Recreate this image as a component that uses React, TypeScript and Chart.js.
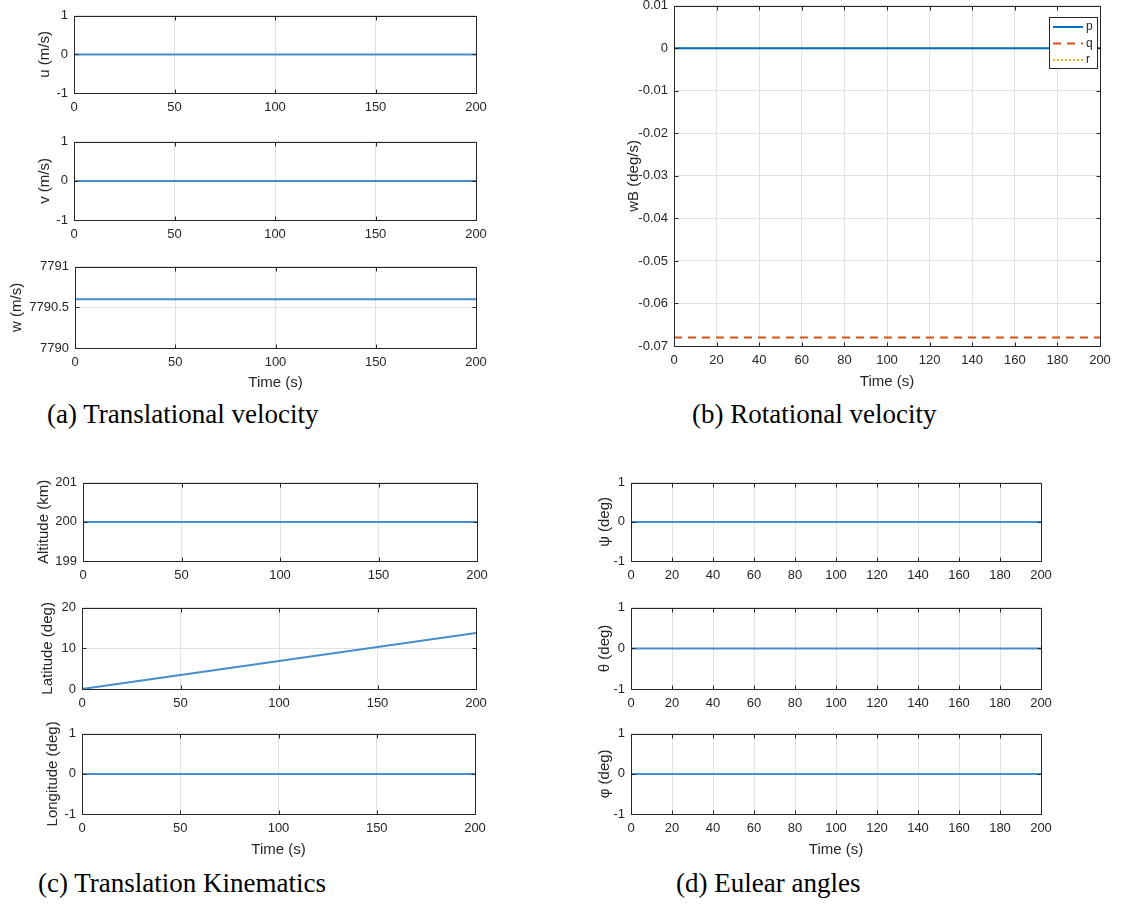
import React, { useEffect, useRef } from "react";
import { Chart, registerables } from "chart.js";
Chart.register(...registerables);

// ---- data ----
const time = [0, 50, 100, 150, 200];
const uVel = [0, 0, 0, 0, 0];
const vVel = [0, 0, 0, 0, 0];
const wVel = [7790.6, 7790.6, 7790.6, 7790.6, 7790.6];
const pRate = [0, 0, 0, 0, 0];
const qRate = [-0.068, -0.068, -0.068, -0.068, -0.068];
const rRate = [0, 0, 0, 0, 0];
const altitude = [200, 200, 200, 200, 200];
const latitude = [0, 3.45, 6.9, 10.35, 13.8];
const longitude = [0, 0, 0, 0, 0];
const psiAng = [0, 0, 0, 0, 0];
const thetaAng = [0, 0, 0, 0, 0];
const phiAng = [0, 0, 0, 0, 0];

// ---- tick labels ----
const ticks50 = [0, 50, 100, 150, 200];
const ticks20 = [0, 20, 40, 60, 80, 100, 120, 140, 160, 180, 200];
const ticksUnit = [-1, 0, 1];
const wTicks = [7790, 7790.5, 7791];
const wBTicks = [-0.07, -0.06, -0.05, -0.04, -0.03, -0.02, -0.01, 0, 0.01];
const altTicks = [199, 200, 201];
const latTicks = [0, 10, 20];

const FONT = "'Liberation Sans', Arial, Helvetica, sans-serif";
const SERIF = "'Liberation Serif', 'Times New Roman', serif";
const AXIS = "#262626";
const GRID = "#e2e2e2";
const LINE = "rgb(70,142,204)";
const TITLE_SIZE = 15;

const series = (ys: number[]) => time.map((t, i) => ({ x: t, y: ys[i] }));
const simple = (ys: number[]) => [
  { data: series(ys), borderColor: LINE, borderWidth: 2, pointRadius: 0, fill: false },
];

const framePlugin = {
  id: "frame",
  afterDatasetsDraw(chart: any) {
    const { ctx, chartArea: a, scales } = chart;
    ctx.save();
    ctx.strokeStyle = AXIS;
    ctx.lineWidth = 1;
    const L = Math.round(a.left) + 0.5, R = Math.round(a.right) + 0.5;
    const T = Math.round(a.top) + 0.5, B = Math.round(a.bottom) + 0.5;
    ctx.beginPath();
    ctx.rect(L, T, R - L, B - T);
    const tl = 4;
    scales.x.ticks.forEach((t: any) => {
      const px = Math.round(scales.x.getPixelForValue(t.value)) + 0.5;
      ctx.moveTo(px, B); ctx.lineTo(px, B - tl);
      ctx.moveTo(px, T); ctx.lineTo(px, T + tl);
    });
    scales.y.ticks.forEach((t: any) => {
      const py = Math.round(scales.y.getPixelForValue(t.value)) + 0.5;
      ctx.moveTo(L, py); ctx.lineTo(L + tl, py);
      ctx.moveTo(R, py); ctx.lineTo(R - tl, py);
    });
    ctx.stroke();
    ctx.restore();
  },
};

const legendPlugin = {
  id: "boxLegend",
  afterDraw(chart: any) {
    const { ctx } = chart;
    const x0 = 1049 - chart.canvas.offsetLeft, y0 = 17 - chart.canvas.offsetTop;
    const w = 48, h = 51;
    ctx.save();
    ctx.fillStyle = "#fff";
    ctx.fillRect(x0, y0, w, h);
    ctx.strokeStyle = AXIS;
    ctx.lineWidth = 1;
    ctx.strokeRect(x0 + 0.5, y0 + 0.5, w, h);
    ctx.font = `12px ${FONT}`;
    ctx.textBaseline = "middle";
    chart.data.datasets.forEach((ds: any, i: number) => {
      const y = y0 + 10 + i * 16.5;
      ctx.beginPath();
      ctx.strokeStyle = ds.borderColor;
      ctx.lineWidth = ds.borderWidth;
      ctx.setLineDash(ds.borderDash || []);
      ctx.moveTo(x0 + 4, y);
      ctx.lineTo(x0 + 34, y);
      ctx.stroke();
      ctx.setLineDash([]);
      ctx.fillStyle = AXIS;
      ctx.fillText(ds.label, x0 + 37, y);
    });
    ctx.restore();
  },
};

type SubProps = {
  l: number; t: number; r: number; b: number;
  yTitle: string; yTitleX: number;
  xTitle?: string; xTitleY?: number;
  xTicks: number[]; yTicks: number[];
  datasets: any[];
  legend?: boolean;
};

function Subplot(p: SubProps) {
  const ref = useRef<HTMLCanvasElement>(null);
  const LH = TITLE_SIZE * 1.2;
  const padTop = 12, padRight = 20;
  const cl = Math.round(p.yTitleX - LH / 2);
  const ct = p.t - padTop;
  const cr = p.r + padRight;
  const cb = p.xTitle ? Math.round((p.xTitleY as number) + LH / 2) : p.b + 26;
  const W = cr - cl, H = cb - ct;
  const Lw = p.l - cl, Bh = cb - p.b;

  useEffect(() => {
    const tickFont = { family: FONT, size: 13 };
    const titleFont = { family: FONT, size: TITLE_SIZE };
    const chart = new Chart(ref.current as HTMLCanvasElement, {
      type: "line",
      data: { datasets: p.datasets },
      options: {
        animation: false,
        responsive: false,
        maintainAspectRatio: false,
        devicePixelRatio: 1,
        layout: { padding: { top: padTop, right: padRight, left: 0, bottom: 0 } },
        plugins: { legend: { display: false }, tooltip: { enabled: false } },
        elements: { point: { radius: 0 }, line: { tension: 0 } },
        scales: {
          x: {
            type: "linear",
            min: p.xTicks[0],
            max: p.xTicks[p.xTicks.length - 1],
            afterBuildTicks: (s: any) => { s.ticks = p.xTicks.map((v) => ({ value: v })); },
            afterFit: (s: any) => { s.height = Bh; },
            grid: { color: GRID, drawTicks: false, lineWidth: 1 },
            border: { display: false },
            ticks: { padding: 7, font: tickFont, color: AXIS, maxRotation: 0, autoSkip: false, callback: (v: any) => String(v) },
            title: { display: !!p.xTitle, text: p.xTitle || "", font: titleFont, color: AXIS, padding: 0 },
          },
          y: {
            type: "linear",
            min: p.yTicks[0],
            max: p.yTicks[p.yTicks.length - 1],
            afterBuildTicks: (s: any) => { s.ticks = p.yTicks.map((v) => ({ value: v })); },
            afterFit: (s: any) => { s.width = Lw; },
            grid: { color: GRID, drawTicks: false, lineWidth: 1 },
            border: { display: false },
            ticks: { padding: 6, font: tickFont, color: AXIS, autoSkip: false, callback: (v: any) => String(v) },
            title: { display: true, text: p.yTitle, font: titleFont, color: AXIS, padding: 0 },
          },
        },
      } as any,
      plugins: p.legend ? [framePlugin, legendPlugin] : [framePlugin],
    });
    return () => chart.destroy();
  }, []);

  return (
    <canvas
      ref={ref}
      width={W}
      height={H}
      style={{ position: "absolute", left: cl, top: ct, width: W, height: H }}
    />
  );
}

function Caption({ text, x, baseline }: { text: string; x: number; baseline: number }) {
  const size = 27;
  return (
    <div
      style={{
        position: "absolute",
        left: x,
        top: baseline - 22.6,
        fontFamily: SERIF,
        fontSize: size,
        lineHeight: 1,
        whiteSpace: "nowrap",
        color: "#000",
      }}
    >
      {text}
    </div>
  );
}

export default function App() {
  const rotDatasets = [
    { label: "p", data: series(pRate), borderColor: "#0072BD", borderWidth: 2, pointRadius: 0 },
    { label: "q", data: series(qRate), borderColor: "#D95319", borderWidth: 2, borderDash: [8, 6], pointRadius: 0 },
    { label: "r", data: series(rRate), borderColor: "#EDB120", borderWidth: 2, borderDash: [2, 2], pointRadius: 0 },
  ];
  return (
    <div style={{ position: "absolute", left: 0, top: 0, width: 1132, height: 908, overflow: "hidden", background: "#fff" }}>
      {/* (a) */}
      <Subplot l={74} t={14} r={476} b={93} yTitle="u (m/s)" yTitleX={45} xTicks={ticks50} yTicks={ticksUnit} datasets={simple(uVel)} />
      <Subplot l={74} t={140} r={476} b={220} yTitle="v (m/s)" yTitleX={45} xTicks={ticks50} yTicks={ticksUnit} datasets={simple(vVel)} />
      <Subplot l={75} t={265} r={476} b={348} yTitle="w (m/s)" yTitleX={17} xTitle="Time (s)" xTitleY={383} xTicks={ticks50} yTicks={wTicks} datasets={simple(wVel)} />
      <Caption text="(a) Translational velocity" x={47} baseline={424} />

      {/* (b) */}
      <Subplot l={674} t={4} r={1100} b={346} yTitle="wB (deg/s)" yTitleX={634} xTitle="Time (s)" xTitleY={382} xTicks={ticks20} yTicks={wBTicks} datasets={rotDatasets} legend />
      <Caption text="(b) Rotational velocity" x={692} baseline={424} />

      {/* (c) */}
      <Subplot l={83} t={481} r={477} b={561} yTitle="Altitude (km)" yTitleX={44} xTicks={ticks50} yTicks={altTicks} datasets={simple(altitude)} />
      <Subplot l={82} t={606} r={476} b={689} yTitle="Latitude (deg)" yTitleX={48} xTicks={ticks50} yTicks={latTicks} datasets={simple(latitude)} />
      <Subplot l={82} t={732} r={475} b={814} yTitle="Longitude (deg)" yTitleX={53} xTitle="Time (s)" xTitleY={850} xTicks={ticks50} yTicks={ticksUnit} datasets={simple(longitude)} />
      <Caption text="(c) Translation Kinematics" x={38} baseline={893} />

      {/* (d) */}
      <Subplot l={631} t={481} r={1041} b={561} yTitle="ψ (deg)" yTitleX={605} xTicks={ticks20} yTicks={ticksUnit} datasets={simple(psiAng)} />
      <Subplot l={631} t={606} r={1041} b={689} yTitle="θ (deg)" yTitleX={605} xTicks={ticks20} yTicks={ticksUnit} datasets={simple(thetaAng)} />
      <Subplot l={631} t={732} r={1041} b={814} yTitle="φ (deg)" yTitleX={605} xTitle="Time (s)" xTitleY={850} xTicks={ticks20} yTicks={ticksUnit} datasets={simple(phiAng)} />
      <Caption text="(d) Eulear angles" x={676} baseline={893} />
    </div>
  );
}
